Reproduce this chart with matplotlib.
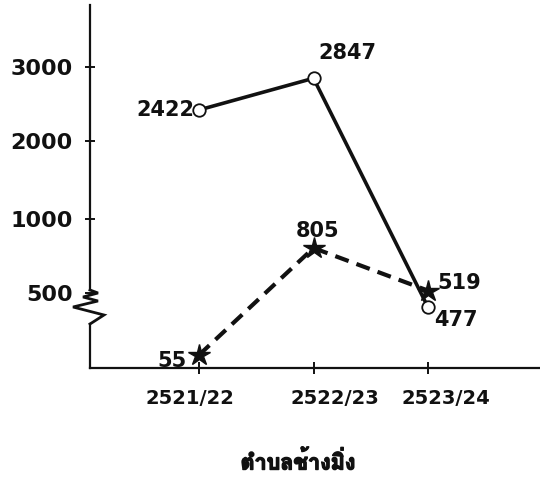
import numpy as np
import matplotlib
matplotlib.use("Agg")
import matplotlib.pyplot as plt
from matplotlib import font_manager
from matplotlib.ft2font import FT2Font
import matplotlib.transforms as mtransforms
import matplotlib.patheffects as pe

# ---------------- data ----------------
periods = ["2521/22", "2522/23", "2523/24"]
series_circle = [2422, 2847, 477]   # solid line, open circles
series_star = [55, 805, 519]        # dashed line, stars
y_ticks = [500, 1000, 2000, 3000]
x_title = "ตำบลช้างมิ่ง"

# ---------------- find a Thai-capable font ----------------
thai_family = None
cands = []
for f in font_manager.fontManager.ttflist:
    try:
        cm = FT2Font(f.fname).get_charmap()
    except Exception:
        continue
    if 0x0E15 in cm and 0x0E49 in cm:
        cands.append(f)
if cands:
    bold = [f for f in cands if str(f.weight) in ("bold", "700", "heavy", "800", "black", "900")]
    thai_family = (bold or cands)[0].name
thai_fonts = ([thai_family] if thai_family else []) + ["DejaVu Sans"]

# ---------------- broken y scale (piecewise) ----------------
kv = np.array([-1060, -60, 480, 500, 1000, 2000, 3000, 4000, 14000], float)
kp = np.array([-113.9, 0, 61.5, 75, 150, 228, 303, 378, 1128], float)

def fwd(v):
    return np.interp(v, kv, kp)

def inv(p):
    return np.interp(p, kp, kv)

DPI = 100
fig = plt.figure(figsize=(5.4, 4.78), dpi=DPI)
W, H = 540, 478
left, right, bottom, top = 90, 540, 368, 5
ax = fig.add_axes([left / W, 1 - bottom / H, (right - left) / W, (bottom - top) / H])
ax.set_yscale("function", functions=(fwd, inv))
ax.set_ylim(-60, 3830)
xs = np.arange(len(periods))
ax.set_xlim(-0.952, 2.978)

ink = "#111111"
ax.plot(xs, series_circle, color=ink, lw=2.6, solid_capstyle="round", zorder=3)
ax.plot(xs, series_circle, linestyle="none", marker="o", ms=9, mfc="white",
        mec=ink, mew=1.3, zorder=5)
ax.plot(xs, series_star, color=ink, lw=3.0, linestyle=(0, (3.4, 2.0)), zorder=3)
ax.plot(xs, series_star, linestyle="none", marker="*", ms=16, color=ink, zorder=4)

# spines
for s in ["top", "right", "left"]:
    ax.spines[s].set_visible(False)
ax.spines["bottom"].set_linewidth(1.6)
ax.spines["bottom"].set_color(ink)

# y axis line drawn manually with zig-zag break
hpx = bottom - top
def fy(py):  # pixel y (image coords) -> axes fraction
    return (bottom - py) / hpx
def fx(px):
    return (px - left) / (right - left)
ax.plot([0, 0], [0, fy(324)], transform=ax.transAxes, color=ink, lw=1.6, clip_on=False)
ax.plot([0, 0], [fy(290), 1], transform=ax.transAxes, color=ink, lw=1.6, clip_on=False)
zz = [(90, 290), (98, 293), (83, 297), (98, 301), (73, 307), (104, 315), (90, 324)]
ax.plot([fx(a) for a, b in zz], [fy(b) for a, b in zz], transform=ax.transAxes,
        color=ink, lw=2.0, clip_on=False, solid_joinstyle="miter")

# ticks
ax.set_yticks(y_ticks)
ax.set_yticklabels([str(v) for v in y_ticks])
ax.yaxis.set_minor_locator(matplotlib.ticker.NullLocator())
ax.set_xticks(xs)
ax.set_xticklabels(periods)
ax.tick_params(axis="y", direction="inout", length=7, width=1.4, color=ink, pad=9,
               labelsize=16, labelcolor=ink)
ax.tick_params(axis="x", direction="inout", length=8, width=1.4, color=ink, pad=11,
               labelsize=14, labelcolor=ink)
for lab in ax.get_yticklabels() + ax.get_xticklabels():
    lab.set_fontweight("bold")
    lab.set_family("DejaVu Sans")
# slight hand-lettered shifts of x labels
for lab, dx in zip(ax.get_xticklabels(), [-9, 21, 18]):
    lab.set_transform(lab.get_transform() +
                      mtransforms.ScaledTranslation(dx / DPI, 0, fig.dpi_scale_trans))

ax.set_facecolor("white")

# value labels (offsets in pixels -> points)
def lbl(x, y, text, dx, dy, ha, va):
    ax.annotate(text, (x, y), xytext=(dx * 0.72, dy * 0.72), textcoords="offset points",
                ha=ha, va=va, fontsize=15, fontweight="bold", color=ink,
                family="DejaVu Sans", zorder=6)

lbl(xs[0], series_circle[0], str(series_circle[0]), -5, 0, "right", "center")
lbl(xs[1], series_circle[1], str(series_circle[1]), 34, 25, "center", "center")
lbl(xs[2], series_circle[2], str(series_circle[2]), 6, -13, "left", "center")
lbl(xs[0], series_star[0], str(series_star[0]), -12, -6, "right", "center")
lbl(xs[1], series_star[1], str(series_star[1]), 4, 17, "center", "center")
lbl(xs[2], series_star[2], str(series_star[2]), 9, 8, "left", "center")

fig.text(298 / W, 1 - 462 / H, x_title, ha="center", va="center", fontsize=15.5,
         fontweight="bold", family=thai_fonts, color=ink,
         path_effects=[pe.withStroke(linewidth=1.0, foreground=ink)])

fig.savefig("out.png", dpi=DPI, facecolor="white")
